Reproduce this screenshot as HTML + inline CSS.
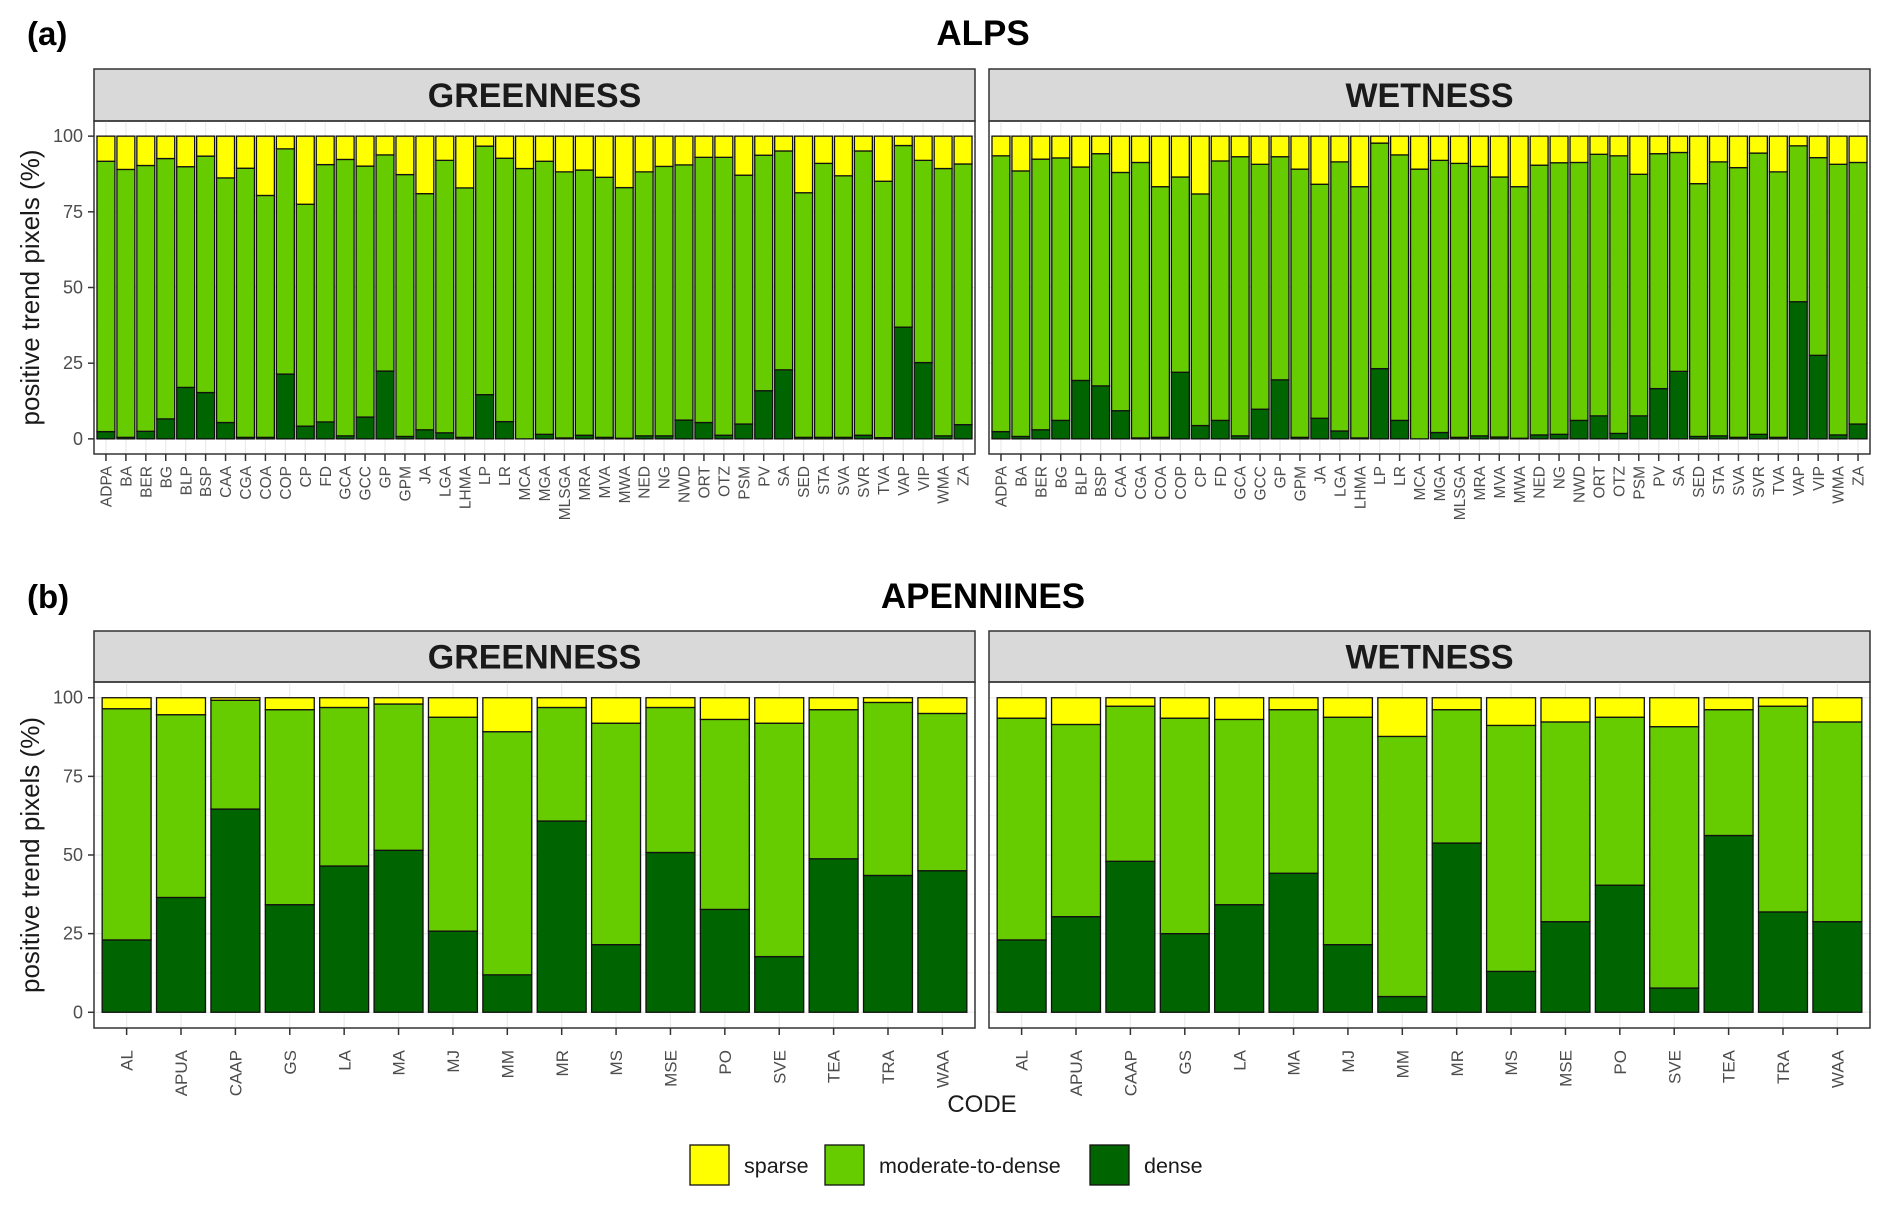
<!DOCTYPE html>
<html><head><meta charset="utf-8"><style>
html,body{margin:0;padding:0;background:#fff;}
svg{display:block;font-family:"Liberation Sans",Arial,sans-serif;}
</style></head><body>
<svg id="chart" width="1892" height="1206" viewBox="0 0 1892 1206" xmlns="http://www.w3.org/2000/svg"></svg>
<script>
const alpsCodes=["ADPA","BA","BER","BG","BLP","BSP","CAA","CGA","COA","COP","CP","FD","GCA","GCC","GP","GPM","JA","LGA","LHMA","LP","LR","MCA","MGA","MLSGA","MRA","MVA","MWA","NED","NG","NWD","ORT","OTZ","PSM","PV","SA","SED","STA","SVA","SVR","TVA","VAP","VIP","WMA","ZA"];
const alpsGreenDense=[2.4,0.5,2.5,6.6,17,15.3,5.4,0.5,0.5,21.4,4.2,5.6,1,7.2,22.4,0.8,3,2,0.5,14.6,5.7,0,1.5,0.3,1.2,0.5,0.2,1,1,6.2,5.4,1.2,4.9,15.9,22.8,0.5,0.5,0.5,1.2,0.4,36.9,25.2,1,4.7];
const alpsGreenMod=[91.7,89,90.3,92.6,89.9,93.4,86.2,89.4,80.4,95.8,77.5,90.6,92.3,90.1,93.8,87.3,81,92,82.9,96.7,92.7,89.3,91.7,88.2,88.8,86.4,83,88.2,90,90.5,93,93,87.1,93.7,95.1,81.3,91,86.9,95.1,85.1,96.9,92,89.3,90.8];
const alpsWetDense=[2.4,0.8,3,6.1,19.3,17.5,9.3,0.3,0.5,22,4.4,6.1,1,9.8,19.5,0.5,6.8,2.6,0.3,23.2,6.1,0,2.1,0.5,1,0.6,0.2,1.3,1.5,6.1,7.6,1.8,7.6,16.6,22.3,0.8,1,0.5,1.5,0.5,45.3,27.6,1.3,4.9];
const alpsWetMod=[93.5,88.5,92.4,92.8,89.8,94.2,88,91.3,83.3,86.5,80.9,91.8,93.2,90.7,93.2,89.1,84.1,91.5,83.3,97.7,93.8,89.1,92,91,90,86.5,83.3,90.4,91.2,91.3,94,93.5,87.4,94.2,94.6,84.3,91.5,89.6,94.4,88.2,96.8,92.9,90.7,91.3];
const apeCodes=["AL","APUA","CAAP","GS","LA","MA","MJ","MM","MR","MS","MSE","PO","SVE","TEA","TRA","WAA"];
const apeGreenDense=[23,36.5,64.6,34.2,46.5,51.5,25.8,11.9,60.8,21.5,50.8,32.7,17.7,48.8,43.5,45];
const apeGreenMod=[96.5,94.6,99.2,96.2,96.9,98,93.8,89.2,96.9,91.9,96.9,93.1,91.9,96.2,98.5,95];
const apeWetDense=[23,30.4,48,25,34.2,44.2,21.5,5,53.8,13,28.8,40.4,7.7,56.2,31.9,28.8];
const apeWetMod=[93.5,91.5,97.3,93.5,93.1,96.2,93.8,87.7,96.2,91.2,92.3,93.8,90.8,96.2,97.3,92.3];
const yTicks=[0,25,50,75,100];
const legendLabels=["sparse","moderate-to-dense","dense"];

const NS="http://www.w3.org/2000/svg";
const svg=document.getElementById('chart');
const C={sparse:"#FFFF00",mod:"#66CC00",dense:"#006400"};
function mk(tag,attrs,parent,text){const e=document.createElementNS(NS,tag);for(const k in attrs)e.setAttribute(k,attrs[k]);if(text!==undefined)e.textContent=text;(parent||svg).appendChild(e);return e;}

function panel(x0,x1,stripTop,stripBot,plotBot,title,codes,dense,mod,showY,name,labFs,labOff){
  const g=mk('g',{});
  
  
  const strip=mk('rect',{x:x0,y:stripTop,width:x1-x0,height:stripBot-stripTop,fill:"#D9D9D9",stroke:"#333",'stroke-width':1.5},g);
  
  
  const st=mk('text',{x:(x0+x1)/2,y:(stripTop+stripBot)/2+12,'text-anchor':'middle','font-size':34,'font-weight':'bold',fill:'#1a1a1a'},g,title);
  
  
  const pTop=stripBot, h=plotBot-pTop;
  const yv=v=>plotBot-(v+5)/110*h;
  const n=codes.length, step=(x1-x0)/(n-1+1.2);
  const xc=i=>x0+(0.6+i)*step;
  const bw=0.9*step;
  yTicks.forEach(t=>{mk('line',{x1:x0,x2:x1,y1:yv(t),y2:yv(t),stroke:'#EBEBEB','stroke-width':1.2},g);
    if(t<100)mk('line',{x1:x0,x2:x1,y1:yv(t+12.5),y2:yv(t+12.5),stroke:'#F3F3F3','stroke-width':0.8},g);});
  codes.forEach((c,i)=>mk('line',{x1:xc(i),x2:xc(i),y1:pTop,y2:plotBot,stroke:'#EBEBEB','stroke-width':1.2},g));
  codes.forEach((c,i)=>{
    const segs=[[0,dense[i],C.dense,'dense'],[dense[i],mod[i],C.mod,'moderate'],[mod[i],100,C.sparse,'sparse']];
    segs.forEach(s=>{const r=mk('rect',{x:xc(i)-bw/2,y:yv(s[1]),width:bw,height:Math.max(0,yv(s[0])-yv(s[1])),fill:s[2],stroke:'#111','stroke-width':1.3},g);
      
      });
    mk('line',{x1:xc(i),x2:xc(i),y1:plotBot,y2:plotBot+7,stroke:'#333','stroke-width':1.5},g);
    const lx=xc(i)+labFs*0.36, ly=plotBot+labOff;
    const t=mk('text',{x:lx,y:ly,'text-anchor':'end','font-size':labFs,fill:'#4D4D4D',transform:`rotate(-90 ${lx} ${ly})`},g,c);
    
    
  });
  mk('rect',{x:x0,y:pTop,width:x1-x0,height:h,fill:'none',stroke:'#333','stroke-width':1.5},g);
  if(showY){
    yTicks.forEach(t=>{mk('line',{x1:x0-6,x2:x0,y1:yv(t),y2:yv(t),stroke:'#333','stroke-width':1.5},g);
      const tl=mk('text',{x:x0-11,y:yv(t)+6,'text-anchor':'end','font-size':18,fill:'#4D4D4D'},g,String(t));
      
      });
    const cy=(pTop+plotBot)/2;
    const yt=mk('text',{x:39,y:cy,'text-anchor':'middle','font-size':26,fill:'#1a1a1a',transform:`rotate(-90 39 ${cy})`},g,'positive trend pixels (%)');
    
    
  }
}
function heading(x,y,txt,anchor,name,fs){const t=mk('text',{x:x,y:y,'text-anchor':anchor,'font-size':fs,'font-weight':'bold',fill:'#000'},svg,txt);
  
  }
heading(27,45,'(a)','start','panel-label-a',33);
heading(983,45,'ALPS','middle','alps-title',35);
heading(27,608,'(b)','start','panel-label-b',33);
heading(983,608,'APENNINES','middle','apennines-title',35);

panel(94,975,69,121,454,'GREENNESS',alpsCodes,alpsGreenDense,alpsGreenMod,true,'alps-greenness-panel',15.5,12);
panel(989,1870,69,121,454,'WETNESS',alpsCodes,alpsWetDense,alpsWetMod,false,'alps-wetness-panel',15.5,12);
panel(94,975,631,682,1028,'GREENNESS',apeCodes,apeGreenDense,apeGreenMod,true,'apennines-greenness-panel',17,22);
panel(989,1870,631,682,1028,'WETNESS',apeCodes,apeWetDense,apeWetMod,false,'apennines-wetness-panel',17,22);

const xt=mk('text',{x:982,y:1112,'text-anchor':'middle','font-size':24,fill:'#1a1a1a'},svg,'CODE');



const legCols=[C.sparse,C.mod,C.dense];
const legX=[690,825,1090];
legendLabels.forEach((l,i)=>{
  const k=mk('rect',{x:legX[i],y:1145,width:39,height:40,fill:legCols[i],stroke:'#111','stroke-width':1.3});
  
  
  const t=mk('text',{x:legX[i]+54,y:1173,'font-size':21.5,fill:'#1a1a1a'},svg,l);
  
  
});
</script>
</body></html>
